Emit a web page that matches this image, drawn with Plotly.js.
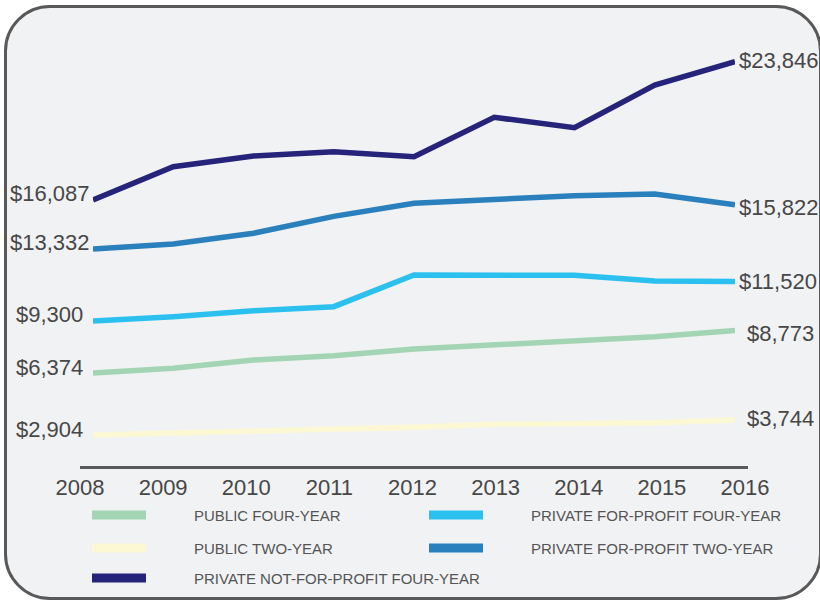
<!DOCTYPE html>
<html>
<head>
<meta charset="utf-8">
<script src="https://cdn.plot.ly/plotly-3.0.1.min.js"></script>
<style>
  html, body { margin: 0; padding: 0; background: #ffffff; }
  #wrap { position: relative; width: 820px; height: 601px; overflow: hidden; background: #ffffff; }
  #frame { position: absolute; left: 4px; top: 5px; width: 818px; height: 595px; box-sizing: border-box;
           border: 3.5px solid #595959; border-radius: 46px; background: #f1f2f4; }
  #chart { position: absolute; left: 0; top: 0; width: 820px; height: 601px; }
</style>
</head>
<body>
<div id="wrap">
  <div id="frame"></div>
  <div id="chart"></div>
</div>
<script>
// ---------------- data ----------------
const years = [2008, 2009, 2010, 2011, 2012, 2013, 2014, 2015, 2016];
const tickLabels = ['2008', '2009', '2010', '2011', '2012', '2013', '2014', '2015', '2016'];

const publicFourYear           = [6374, 6647, 7113, 7354, 7730, 7954, 8234, 8420, 8773];
const publicTwoYear            = [2904, 3001, 3147, 3242, 3338, 3506, 3562, 3585, 3744];
const privateForProfitFourYear = [9300, 9541, 9878, 10102, 11880, 11880, 11863, 11544, 11520];
const privateForProfitTwoYear  = [13332, 13619, 14219, 15170, 15902, 16143, 16328, 16424, 15822];
const privateNonProfitFourYear = [16087, 17955, 18555, 18796, 18516, 20726, 20142, 22537, 23846];

const seriesNames = [
  'PUBLIC FOUR-YEAR',
  'PRIVATE FOR-PROFIT FOUR-YEAR',
  'PUBLIC TWO-YEAR',
  'PRIVATE FOR-PROFIT TWO-YEAR',
  'PRIVATE NOT-FOR-PROFIT FOUR-YEAR'
];
const seriesValues = [publicFourYear, privateForProfitFourYear, publicTwoYear, privateForProfitTwoYear, privateNonProfitFourYear];

// ---------------- styles ----------------
const seriesColors = ['#a3d5b4', '#2cc0ef', '#fbf8d3', '#2a80bd', '#25237a'];
const FONT = "'Liberation Sans', Arial, sans-serif";
const TEXT = '#474747';

// plot area in pixels
const W = 820, H = 601;
const PL = 80, PR = 748, PT = 20, PB = 466;
const px2paperX = x => (x - PL) / (PR - PL);
const px2paperY = y => (PB - y) / (PB - PT);

// label offsets (px) [left xshift, left yshift, right xshift, right yshift]
const labelOffsets = [
  [-8, 6, 10, -3],
  [-8, 6, 2, 0],
  [-8, 5, 10, 2],
  [-1, 7, 2, -3],
  [-1, 7, 2, 1]
];

// legend grid positions (px)
const legendCols = [{sx: 92, tx: 192}, {sx: 429, tx: 529}];
const legendRows = [515, 548, 578];

const traces = seriesValues.map((vals, i) => ({
  type: 'scatter', mode: 'lines',
  x: years, y: vals,
  xaxis: 'x2', yaxis: 'y',
  name: seriesNames[i],
  line: {color: seriesColors[i], width: 5.5, shape: 'linear'},
  hoverinfo: 'x+y',
  showlegend: false
}));
// empty trace so the labelled axis subplot exists
traces.push({type: 'scatter', mode: 'lines', x: [], y: [], xaxis: 'x', yaxis: 'y', showlegend: false, hoverinfo: 'skip'});

const fmt = v => '$' + v.toLocaleString('en-US');
const annotations = [];
const shapes = [];
seriesValues.forEach((vals, i) => {
  const o = labelOffsets[i];
  annotations.push({
    xref: 'x2', yref: 'y', x: years[0], y: vals[0], text: fmt(vals[0]),
    showarrow: false, xanchor: 'right', yanchor: 'middle', xshift: o[0], yshift: o[1],
    font: {family: FONT, size: 22, color: TEXT}
  });
  annotations.push({
    xref: 'x2', yref: 'y', x: years[years.length - 1], y: vals[vals.length - 1], text: fmt(vals[vals.length - 1]),
    showarrow: false, xanchor: 'left', yanchor: 'middle', xshift: o[2], yshift: o[3],
    font: {family: FONT, size: 22, color: TEXT}
  });
  // legend
  const col = legendCols[i % 2], rowY = legendRows[Math.floor(i / 2)];
  shapes.push({
    type: 'rect', xref: 'paper', yref: 'paper',
    x0: px2paperX(col.sx), x1: px2paperX(col.sx + 54),
    y0: px2paperY(rowY - 4.5), y1: px2paperY(rowY + 4.5),
    fillcolor: seriesColors[i], line: {width: 0}
  });
  annotations.push({
    xref: 'paper', yref: 'paper', x: px2paperX(col.tx), y: px2paperY(rowY),
    text: seriesNames[i], showarrow: false, xanchor: 'left', yanchor: 'middle',
    font: {family: FONT, size: 15, color: '#555555'}
  });
});

const yMin = 1164, yMax = 26185;
const layout = {
  width: W, height: H,
  margin: {l: PL, r: W - PR, t: PT, b: H - PB, pad: 0},
  paper_bgcolor: 'rgba(0,0,0,0)', plot_bgcolor: 'rgba(0,0,0,0)',
  showlegend: false,
  xaxis: {
    domain: [0, 1], anchor: 'y',
    range: [2008, 2008 + (PR - PL) / ((745 - 80) / 8)],
    tickvals: years, ticktext: tickLabels, ticks: '',
    showgrid: false, zeroline: false,
    showline: true, linecolor: '#5a5a5a', linewidth: 3,
    tickfont: {family: FONT, size: 22, color: TEXT},
    fixedrange: true
  },
  xaxis2: {
    domain: [px2paperX(93), px2paperX(735)], anchor: 'y',
    range: [2008, 2016], visible: false, fixedrange: true
  },
  yaxis: {
    domain: [0, 1], anchor: 'x', range: [yMin, yMax],
    visible: false, showgrid: false, zeroline: false, fixedrange: true
  },
  annotations: annotations,
  shapes: shapes
};

Plotly.newPlot('chart', traces, layout, {displayModeBar: false, staticPlot: true});
</script>
</body>
</html>
